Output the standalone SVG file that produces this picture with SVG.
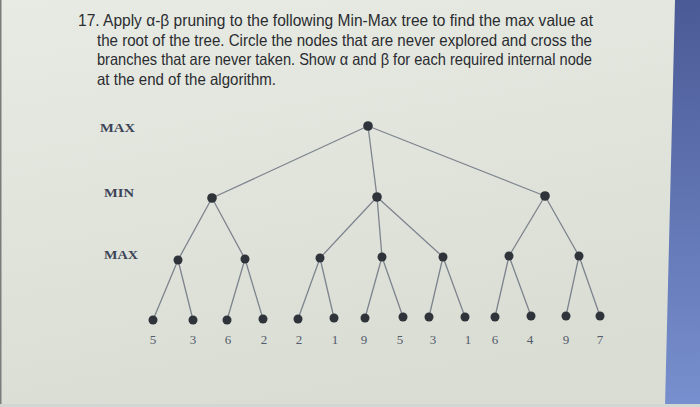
<svg xmlns="http://www.w3.org/2000/svg" width="700" height="407" viewBox="0 0 700 407">
<style>
.q{font-family:"Liberation Sans","Open Sans",sans-serif;font-size:16.5px;fill:#2a2c31}
.lv{font-family:"Liberation Serif",serif;font-size:13px;font-weight:bold;fill:#3c4356}
.num{font-family:"Liberation Serif",serif;font-size:13px;fill:#545a6a;text-anchor:middle}
.e{stroke:#7d848e;stroke-width:1.3;fill:none}
.n{fill:#2f333a}
</style>
<defs>
<linearGradient id="bg" x1="0" y1="0" x2="0.3" y2="1">
<stop offset="0" stop-color="#e8ebe3"/>
<stop offset="1" stop-color="#d9ddd4"/>
</linearGradient>
<linearGradient id="blue" x1="0" y1="0" x2="0" y2="1">
<stop offset="0" stop-color="#4a5a96"/>
<stop offset="1" stop-color="#7890cf"/>
</linearGradient>
</defs>
<rect width="700" height="407" fill="url(#bg)"/>
<polygon points="675,0 700,0 700,407 665,407" fill="url(#blue)"/>
<rect x="0" y="0" width="1.5" height="407" fill="#7a7e7a"/>
<rect x="0" y="404" width="700" height="3" fill="#d3d7d3"/>
<g id="question">
<text class="q" x="78" y="26" textLength="515" lengthAdjust="spacingAndGlyphs">17. Apply α-β pruning to the following Min-Max tree to find the max value at</text>
<text class="q" x="97" y="45.5" textLength="495" lengthAdjust="spacingAndGlyphs">the root of the tree. Circle the nodes that are never explored and cross the</text>
<text class="q" x="97" y="65" textLength="495" lengthAdjust="spacingAndGlyphs">branches that are never taken. Show α and β for each required internal node</text>
<text class="q" x="97" y="84.5" textLength="179" lengthAdjust="spacingAndGlyphs">at the end of the algorithm.</text>
</g>
<g id="levels">
<text class="lv" x="100" y="132" textLength="35" lengthAdjust="spacingAndGlyphs">MAX</text>
<text class="lv" x="104" y="197" textLength="30" lengthAdjust="spacingAndGlyphs">MIN</text>
<text class="lv" x="104" y="259" textLength="34" lengthAdjust="spacingAndGlyphs">MAX</text>
</g>
<g id="connectors">
<path class="e" d="M368,126L212,198M368,126L377,197M368,126L545,196"/>
<path class="e" d="M212,198L178,260M212,198L245,259M377,197L320,258M377,197L382,257M377,197L443,257M545,196L509,256M545,196L579,256"/>
<path class="e" d="M178,260L153,320M178,260L193,320M245,259L227,320M245,259L263,319M320,258L298,319M320,258L334,318M382,257L365,318M382,257L403,317M443,257L429,317M443,257L465,317M509,256L495,317M509,256L531,316M579,256L566,316M579,256L600,316"/>
</g>
<g id="root"><circle class="n" cx="368" cy="126" r="4.8"/></g>
<g id="min1"><circle class="n" cx="212" cy="198" r="4.8"/></g>
<g id="min2"><circle class="n" cx="377" cy="197" r="4.8"/></g>
<g id="min3"><circle class="n" cx="545" cy="196" r="4.8"/></g>
<g id="max1"><circle class="n" cx="178" cy="260" r="4.5"/></g>
<g id="max2"><circle class="n" cx="245" cy="259" r="4.5"/></g>
<g id="max3"><circle class="n" cx="320" cy="258" r="4.5"/></g>
<g id="max4"><circle class="n" cx="382" cy="257" r="4.5"/></g>
<g id="max5"><circle class="n" cx="443" cy="257" r="4.5"/></g>
<g id="max6"><circle class="n" cx="509" cy="256" r="4.5"/></g>
<g id="max7"><circle class="n" cx="579" cy="256" r="4.5"/></g>
<g id="leaf1"><circle class="n" cx="153" cy="320" r="4.5"/><text class="num" x="153" y="344">5</text></g>
<g id="leaf2"><circle class="n" cx="193" cy="320" r="4.5"/><text class="num" x="193" y="344">3</text></g>
<g id="leaf3"><circle class="n" cx="227" cy="320" r="4.5"/><text class="num" x="228" y="344">6</text></g>
<g id="leaf4"><circle class="n" cx="263" cy="319" r="4.5"/><text class="num" x="264" y="344">2</text></g>
<g id="leaf5"><circle class="n" cx="298" cy="319" r="4.5"/><text class="num" x="299" y="344">2</text></g>
<g id="leaf6"><circle class="n" cx="334" cy="318" r="4.5"/><text class="num" x="335" y="344">1</text></g>
<g id="leaf7"><circle class="n" cx="365" cy="318" r="4.5"/><text class="num" x="364" y="344">9</text></g>
<g id="leaf8"><circle class="n" cx="403" cy="317" r="4.5"/><text class="num" x="400" y="344">5</text></g>
<g id="leaf9"><circle class="n" cx="429" cy="317" r="4.5"/><text class="num" x="433" y="344">3</text></g>
<g id="leaf10"><circle class="n" cx="465" cy="317" r="4.5"/><text class="num" x="468" y="344">1</text></g>
<g id="leaf11"><circle class="n" cx="495" cy="317" r="4.5"/><text class="num" x="495" y="344">6</text></g>
<g id="leaf12"><circle class="n" cx="531" cy="316" r="4.5"/><text class="num" x="530" y="344">4</text></g>
<g id="leaf13"><circle class="n" cx="566" cy="316" r="4.5"/><text class="num" x="566" y="344">9</text></g>
<g id="leaf14"><circle class="n" cx="600" cy="316" r="4.5"/><text class="num" x="600" y="344">7</text></g>
</svg>
